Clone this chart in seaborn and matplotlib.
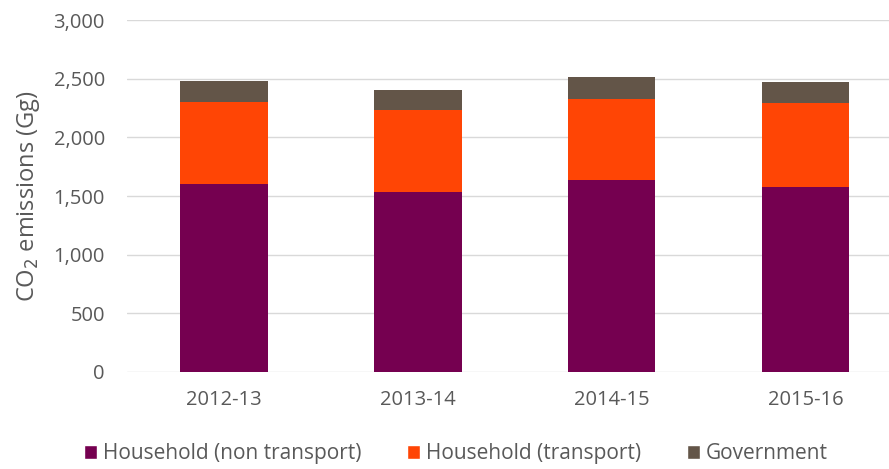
import pandas as pd
import matplotlib.pyplot as plt
import seaborn as sns
from matplotlib.patches import Patch

years = ["2012-13", "2013-14", "2014-15", "2015-16"]
household_non_transport = [1600, 1535, 1635, 1580]
household_transport = [702, 702, 690, 712]
government = [176, 164, 187, 177]

series_names = ["Household (non transport)", "Household (transport)", "Government"]
colors = ["#750050", "#FF4505", "#635548"]

df = pd.DataFrame({
    "year": years,
    "nt": household_non_transport,
    "t": household_transport,
    "g": government,
})
df["nt_t"] = df["nt"] + df["t"]
df["total"] = df["nt_t"] + df["g"]

sns.set_style("white")
plt.rcParams["font.family"] = ["Open Sans", "DejaVu Sans"]

fig = plt.figure(figsize=(8.89, 4.69), dpi=100)
ax = fig.add_axes([0.143, 0.207, 0.857, 0.75])

# stacked bars drawn as cumulative totals, back to front
for col, c in [("total", colors[2]), ("nt_t", colors[1]), ("nt", colors[0])]:
    sns.barplot(data=df, x="year", y=col, color=c, width=0.45,
                saturation=1, ax=ax, zorder=3, linewidth=0)

ax.set_ylim(0, 3000)
ax.set_xlim(-0.5, 3.43)
ax.set_yticks(range(0, 3001, 500))
ax.set_yticklabels([f"{v:,}" for v in range(0, 3001, 500)])
ax.yaxis.grid(True, color="#d9d9d9", linewidth=1, zorder=0)
for s in ax.spines.values():
    s.set_visible(False)
ax.tick_params(axis="both", length=0, labelsize=14.5, colors="#595959")
ax.tick_params(axis="x", pad=13)
ax.tick_params(axis="y", pad=16)
ax.set_xlabel("")
ax.set_ylabel(r"CO$_2$ emissions (Gg)", fontsize=17, color="#595959", labelpad=8)

handles = [Patch(facecolor=c, label=n) for c, n in zip(colors, series_names)]
fig.legend(handles=handles, loc="lower center", ncol=3, frameon=False,
           bbox_to_anchor=(0.513, -0.03), fontsize=15, labelcolor="#595959",
           handlelength=0.6, handleheight=0.7, handletextpad=0.3, columnspacing=2.2)

fig.savefig("out.png", dpi=100)
